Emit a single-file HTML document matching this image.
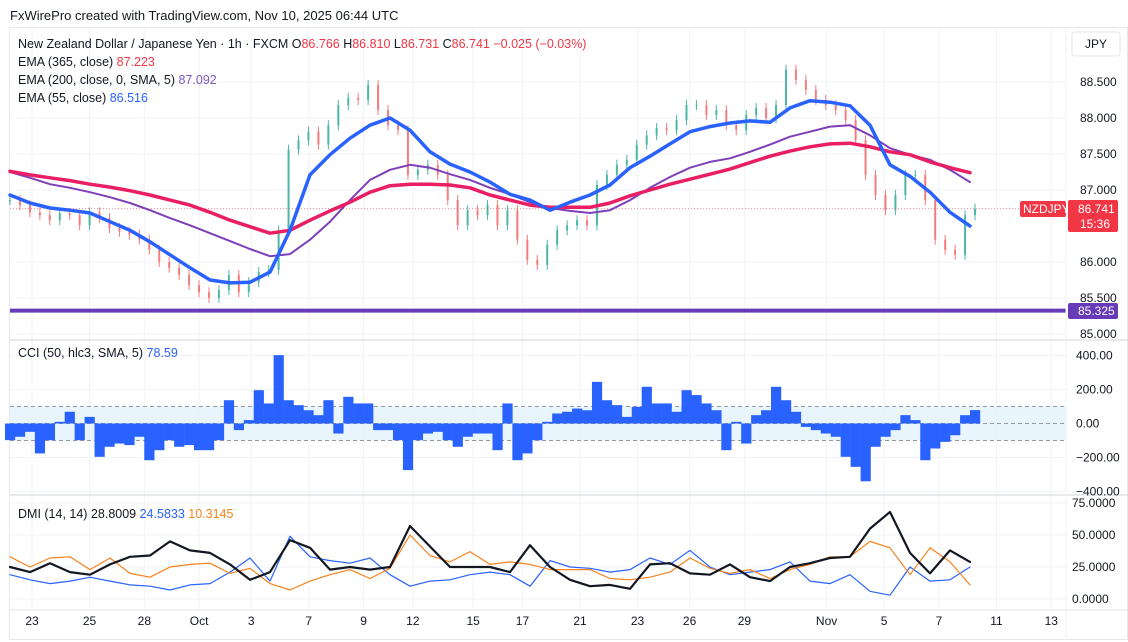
<!DOCTYPE html>
<html><head><meta charset="utf-8">
<style>
html,body{margin:0;padding:0;background:#fff;width:1128px;height:642px;overflow:hidden}
body{font-family:"Liberation Sans",sans-serif;}
</style></head>
<body>
<svg id="chart" width="1128" height="642" xmlns="http://www.w3.org/2000/svg" font-family="Liberation Sans, sans-serif">
<text x="10" y="20" font-size="13" fill="#131722">FxWirePro created with TradingView.com, Nov 10, 2025 06:44 UTC</text>
<rect x="9.5" y="27.5" width="1118" height="612" fill="none" stroke="#e6e8ee"/>
<g id="grid"></g>
<g id="cciBand"></g>
<g id="candles"></g>
<g id="emas"></g>
<g id="cci"></g>
<g id="dmi"></g>
<line x1="10" y1="340" x2="1128" y2="340" stroke="#d1d4dc"/>
<line x1="10" y1="495" x2="1128" y2="495" stroke="#d1d4dc"/>
<line x1="10" y1="610" x2="1128" y2="610" stroke="#e0e3eb"/>
<line x1="1066" y1="28" x2="1066" y2="640" stroke="#eef0f3"/>
<g id="axes" font-size="12" fill="#131722"></g>
<g font-size="12.5">
<text x="18" y="48" fill="#131722">New Zealand Dollar / Japanese Yen · 1h · FXCM <tspan>O</tspan><tspan fill="#f23645">86.766</tspan> H<tspan fill="#f23645">86.810</tspan> L<tspan fill="#f23645">86.731</tspan> C<tspan fill="#f23645">86.741</tspan> <tspan fill="#f23645">−0.025 (−0.03%)</tspan></text>
<text x="18" y="66" fill="#131722">EMA (365, close) <tspan fill="#f23645">87.223</tspan></text>
<text x="18" y="84" fill="#131722">EMA (200, close, 0, SMA, 5) <tspan fill="#7e57c2">87.092</tspan></text>
<text x="18" y="102" fill="#131722">EMA (55, close) <tspan fill="#2962ff">86.516</tspan></text>
<text x="18" y="357" fill="#131722">CCI (50, hlc3, SMA, 5) <tspan fill="#2962ff">78.59</tspan></text>
<text x="18" y="518" fill="#131722">DMI (14, 14) 28.8009 <tspan fill="#2962ff">24.5833</tspan> <tspan fill="#f7821b">10.3145</tspan></text>
</g>
<rect x="1072" y="32" width="48" height="24" rx="3" fill="#fff" stroke="#e0e3eb"/>
<text x="1096" y="48" font-size="12" text-anchor="middle" fill="#131722">JPY</text>
</svg>
<script>
// ---- data ----
const prices=[86.86,86.79,86.69,86.65,86.58,86.68,86.65,86.51,86.69,86.61,86.47,86.42,86.38,86.31,86.17,86.00,85.92,85.82,85.68,85.58,85.50,85.61,85.82,85.58,85.72,85.86,85.89,86.44,87.56,87.69,87.81,87.63,87.90,88.18,88.28,88.25,88.46,88.11,87.90,87.83,87.21,87.28,87.35,87.21,86.86,86.51,86.72,86.65,86.79,86.51,86.72,86.31,86.03,85.96,86.24,86.44,86.51,86.58,86.51,87.07,87.21,87.35,87.42,87.63,87.76,87.86,87.83,87.97,88.18,88.18,88.04,88.11,87.90,87.83,88.04,88.14,88.00,88.18,88.67,88.53,88.39,88.25,88.18,88.11,87.97,87.69,87.21,86.93,86.72,86.93,87.21,87.21,86.86,86.31,86.17,86.10,86.65,86.74];
const ema55=[86.93,86.82,86.75,86.72,86.68,86.56,86.44,86.28,86.10,85.92,85.75,85.71,85.72,85.86,86.44,87.21,87.49,87.72,87.90,88.00,87.83,87.53,87.36,87.25,87.11,86.94,86.86,86.72,86.83,86.93,87.07,87.31,87.47,87.64,87.81,87.88,87.93,87.96,87.94,88.14,88.24,88.22,88.17,87.90,87.35,87.19,86.97,86.69,86.50];
const ema200=[87.25,87.17,87.08,87.03,86.97,86.90,86.82,86.72,86.61,86.51,86.40,86.29,86.18,86.08,86.11,86.31,86.56,86.86,87.14,87.28,87.35,87.31,87.22,87.14,87.03,86.94,86.83,86.75,86.71,86.68,86.72,86.86,87.03,87.18,87.31,87.39,87.44,87.53,87.63,87.74,87.81,87.88,87.90,87.76,87.58,87.49,87.42,87.28,87.11];
const ema365=[87.26,87.21,87.17,87.13,87.08,87.04,86.99,86.93,86.86,86.79,86.69,86.58,86.49,86.40,86.44,86.58,86.71,86.83,86.97,87.06,87.08,87.08,87.07,87.03,86.93,86.86,86.79,86.76,86.76,86.76,86.82,86.92,87.00,87.08,87.15,87.22,87.29,87.38,87.47,87.54,87.60,87.64,87.65,87.60,87.53,87.49,87.39,87.31,87.24];
const cciVals=[-98,-78,-49,-176,-98,10,69,-98,39,-196,-137,-118,-127,-78,-216,-157,-98,-137,-127,-157,-157,-98,137,-39,20,196,118,402,137,108,78,49,137,-59,157,118,118,-39,-39,-98,-274,-98,-59,-49,-98,-137,-78,-59,-59,-157,118,-216,-176,-98,10,59,69,88,78,245,137,108,39,98,216,118,118,69,196,167,118,78,-157,10,-118,49,78,216,137,69,-20,-39,-59,-78,-196,-255,-340,-137,-78,-39,49,20,-216,-147,-108,-69,49,79];
const adx=[25,21,28,21,19,27,33,34,45,38,36,27,15,21,46,40,23,25,23,25,57,41,25,25,25,21,42,25,15,10,11,8,27,28,20,19,27,17,14,25,28,32,33,55,68,36,20,38,29];
const plusDI=[19,15,12,14,17,14,11,10,7,11,12,21,32,14,49,33,30,28,32,19,10,14,15,19,21,19,10,30,25,24,21,23,32,27,38,25,19,21,23,29,14,12,19,6,3,25,14,15,25];
const minusDI=[33,25,32,33,23,32,20,17,25,27,28,20,24,12,7,14,19,23,16,24,50,34,29,37,27,29,27,23,23,23,16,15,17,21,32,24,20,23,16,23,27,33,33,45,40,19,40,29,11];
const priceTicks=[88.5,88.0,87.5,87.0,86.0,85.5,85.0];
const priceTickLabels=["88.500","88.000","87.500","87.000","86.000","85.500","85.000"];
const cciTicks=[400,200,0,-200,-400];
const cciTickLabels=["400.00","200.00","0.00","−200.00","−400.00"];
const dmiTicks=[75,50,25,0];
const dmiTickLabels=["75.0000","50.0000","25.0000","0.0000"];
const dateLabels=["23","25","28","Oct","3","7","9","12","15","17","21","23","26","29","Nov","5","7","11","13"];
const dateIdx=[0,2.1,4.1,6.1,8.0,10.1,12.1,13.9,16.1,17.9,20,22.1,24,26,29,31.1,33.1,35.2,37.2];
const supportLevel=85.325;
const lastPrice=86.741;

// ---- scales ----
const yP=p=>190-(p-87)*72;
const yC=v=>423.5-v*0.17;
const yD=v=>599-v*1.28;
const xI=(i,n)=>10+i*(n===98?965/97:20);
const xDay=d=>32+d*27.4;
const NS="http://www.w3.org/2000/svg";
function mk(tag,attrs,parent){const e=document.createElementNS(NS,tag);for(const k in attrs)e.setAttribute(k,attrs[k]);parent.appendChild(e);return e;}
const grid=document.getElementById('grid'),axes=document.getElementById('axes');

priceTicks.forEach((p,i)=>{
  const l=mk('line',{x1:10,x2:1066,y1:yP(p),y2:yP(p),stroke:'#f0f3fa'},grid);
  
  
  const t=mk('text',{x:1080,y:yP(p)+4},axes);t.textContent=priceTickLabels[i];
  
  
});
cciTicks.forEach((v,i)=>{
  const l=mk('line',{x1:10,x2:1066,y1:yC(v),y2:yC(v),stroke:'#f0f3fa'},grid);
  
  
  const t=mk('text',{x:1076,y:yC(v)+4},axes);t.textContent=cciTickLabels[i];
  
  
});
dmiTicks.forEach((v,i)=>{
  const l=mk('line',{x1:10,x2:1066,y1:yD(v),y2:yD(v),stroke:'#f0f3fa'},grid);
  
  
  const t=mk('text',{x:1072,y:yD(v)+4},axes);t.textContent=dmiTickLabels[i];
  
  
});
dateLabels.forEach((s,i)=>{
  const x=xDay(dateIdx[i]);
  const l=mk('line',{x1:x,x2:x,y1:28,y2:610,stroke:'#f0f3fa'},grid);
  
  
  const t=mk('text',{x:x,y:625,'text-anchor':'middle'},axes);t.textContent=s;
  
  
});

const band=document.getElementById('cciBand');
const br=mk('rect',{x:10,y:yC(100),width:1056,height:yC(-100)-yC(100),fill:'#e3f2fd',opacity:0.8},band);


[100,0,-100].forEach(v=>{
  const l=mk('line',{x1:10,x2:1066,y1:yC(v),y2:yC(v),stroke:'#9598a1','stroke-dasharray':'4,3'},band);
  
  
});

const cg=document.getElementById('candles');
prices.forEach((c,i)=>{
  const o=i?prices[i-1]:c; const x=xI(i,98);
  const up=c>=o; const col=up?'#4db6a4':'#f47c7c';
  const w=mk('line',{x1:x,x2:x,y1:yP(Math.max(o,c))-5,y2:yP(Math.min(o,c))+5,stroke:col,'stroke-width':1},cg);
  
  
  const top=yP(Math.max(o,c)),h=Math.max(1,Math.abs(yP(o)-yP(c)));
  const b=mk('rect',{x:x-1,y:top,width:2,height:h,fill:col},cg);
  
  
});

const sl=mk('line',{x1:10,x2:1066,y1:yP(supportLevel),y2:yP(supportLevel),stroke:'#673ab7','stroke-width':4},cg);


const ll=mk('line',{x1:10,x2:1066,y1:yP(lastPrice),y2:yP(lastPrice),stroke:'#f23645','stroke-width':1,'stroke-dasharray':'1,2',opacity:0.6},cg);



const eg=document.getElementById('emas');
function line(arr,n,ys,col,w,parent,name){
  const d=arr.map((v,i)=>(i?'L':'M')+xI(i,n).toFixed(1)+' '+ys(v).toFixed(1)).join(' ');
  const p=mk('path',{d:d,fill:'none',stroke:col,'stroke-width':w,'stroke-linejoin':'round','stroke-linecap':'round'},parent);
  
  
}
line(ema200,49,yP,'#7e3fb8',2,eg,'ema200-line');
line(ema365,49,yP,'#e91e63',3.5,eg,'ema365-line');
line(ema55,49,yP,'#2962ff',3.5,eg,'ema55-line');

const hg=document.getElementById('cci');
cciVals.forEach((v,i)=>{
  const x=xI(i,98); const y0=yC(0),y1=yC(v);
  const r=mk('rect',{x:x-5,y:Math.min(y0,y1),width:10.2,height:Math.abs(y1-y0),fill:'#2962ff'},hg);
  
  
});

const dg=document.getElementById('dmi');
line(plusDI,49,yD,'#2962ff',1.2,dg,'plus-di-line');
line(minusDI,49,yD,'#f7821b',1.2,dg,'minus-di-line');
line(adx,49,yD,'#131722',2.2,dg,'adx-line');

function box(x,y,w,h,fill,name){const r=mk('rect',{x:x,y:y,width:w,height:h,fill:fill,rx:2},axes);}
function txt(x,y,s,name,size){const t=mk('text',{x:x,y:y,fill:'#fff','font-size':size||12},axes);t.textContent=s;}
box(1020,201,46,16,'#f23645','symbol-tag');
txt(1023,213,'NZDJPY','symbol-tag-text');
box(1068,200,50,32,'#f23645','last-price-tag');
txt(1078,213,'86.741','last-price-text');
txt(1080,228,'15:36','countdown-text');
box(1068,303,50,16,'#673ab7','support-price-tag');
txt(1078,315,'85.325','support-price-text');
</script>
</body></html>
